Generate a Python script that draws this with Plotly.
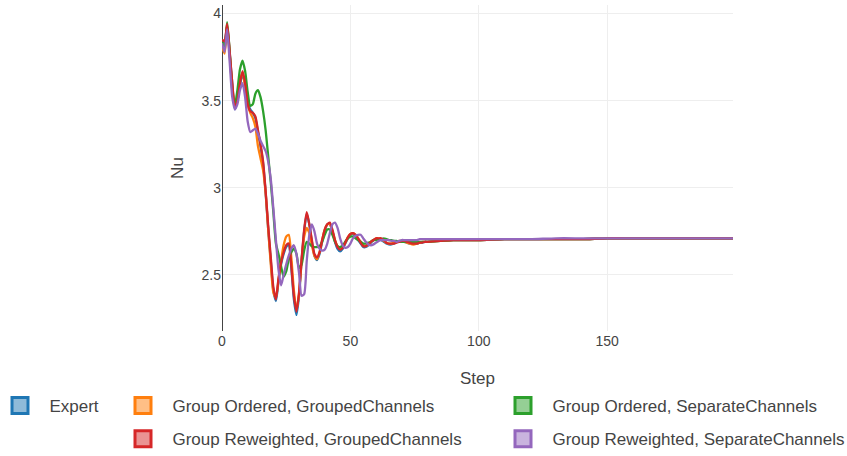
import plotly.graph_objects as go

steps = list(range(0, 81)) + [85, 90, 100, 110, 120, 130, 140, 150, 160, 170, 180, 190, 199]

tail_common = [2.695, 2.70, 2.70, 2.705, 2.705, 2.705, 2.705, 2.71, 2.71, 2.71, 2.71, 2.71, 2.71]

expert = [3.85, 3.83, 3.93, 3.77, 3.60, 3.45, 3.50, 3.59, 3.65, 3.60, 3.49, 3.45, 3.43, 3.40, 3.32, 3.24, 3.14, 2.97, 2.76, 2.58, 2.41, 2.35, 2.46, 2.56, 2.62, 2.66, 2.67, 2.54, 2.36, 2.27,
          2.38, 2.58, 2.75, 2.85, 2.79, 2.69, 2.61, 2.585, 2.62, 2.69, 2.75, 2.79, 2.79, 2.75, 2.69, 2.65, 2.635, 2.65, 2.68, 2.71, 2.73, 2.735, 2.72, 2.70, 2.68, 2.66, 2.66, 2.67, 2.685, 2.70,
          2.705, 2.705, 2.70, 2.69, 2.68, 2.675, 2.675, 2.68, 2.69, 2.69, 2.695, 2.69, 2.685, 2.68, 2.68, 2.68, 2.68, 2.685, 2.685, 2.69, 2.69] + tail_common

go_gc = [3.81, 3.77, 3.92, 3.76, 3.58, 3.46, 3.52, 3.62, 3.66, 3.58, 3.48, 3.43, 3.40, 3.35, 3.24, 3.17, 3.10, 2.97, 2.76, 2.56, 2.40, 2.37, 2.47, 2.58, 2.67, 2.72, 2.73, 2.60, 2.41, 2.30,
         2.39, 2.58, 2.72, 2.77, 2.74, 2.67, 2.61, 2.59, 2.63, 2.70, 2.76, 2.79, 2.79, 2.75, 2.70, 2.665, 2.655, 2.66, 2.685, 2.715, 2.735, 2.74, 2.73, 2.71, 2.69, 2.67, 2.665, 2.675, 2.69, 2.70,
         2.71, 2.71, 2.705, 2.695, 2.685, 2.68, 2.68, 2.685, 2.69, 2.695, 2.695, 2.69, 2.685, 2.68, 2.675, 2.675, 2.68, 2.685, 2.69, 2.69, 2.69] + tail_common

go_sc = [3.84, 3.80, 3.95, 3.78, 3.56, 3.47, 3.56, 3.68, 3.73, 3.67, 3.55, 3.47, 3.48, 3.54, 3.56, 3.52, 3.44, 3.33, 3.18, 3.03, 2.86, 2.68, 2.62, 2.55, 2.49, 2.52, 2.59, 2.63, 2.65, 2.62,
         2.54, 2.56, 2.64, 2.69, 2.68, 2.665, 2.66, 2.66, 2.665, 2.69, 2.73, 2.76, 2.76, 2.73, 2.69, 2.665, 2.66, 2.67, 2.69, 2.71, 2.72, 2.72, 2.71, 2.70, 2.69, 2.68, 2.68, 2.685, 2.69, 2.70,
         2.70, 2.705, 2.705, 2.71, 2.705, 2.70, 2.70, 2.695, 2.695, 2.69, 2.69, 2.69, 2.69, 2.69, 2.69, 2.69, 2.69, 2.69, 2.69, 2.69, 2.69] + tail_common

gr_gc = [3.85, 3.84, 3.94, 3.78, 3.60, 3.46, 3.50, 3.60, 3.67, 3.60, 3.48, 3.44, 3.43, 3.41, 3.33, 3.25, 3.15, 2.98, 2.78, 2.60, 2.43, 2.36, 2.48, 2.57, 2.63, 2.67, 2.68, 2.55, 2.38, 2.29,
         2.40, 2.59, 2.76, 2.86, 2.79, 2.70, 2.62, 2.60, 2.63, 2.70, 2.76, 2.79, 2.80, 2.76, 2.70, 2.66, 2.645, 2.655, 2.685, 2.715, 2.735, 2.74, 2.73, 2.71, 2.685, 2.665, 2.665, 2.675, 2.69, 2.70,
         2.71, 2.71, 2.71, 2.70, 2.685, 2.68, 2.68, 2.68, 2.685, 2.69, 2.695, 2.695, 2.69, 2.685, 2.68, 2.68, 2.68, 2.685, 2.685, 2.69, 2.69] + tail_common

gr_sc = [3.83, 3.78, 3.91, 3.72, 3.52, 3.45, 3.48, 3.56, 3.60, 3.52, 3.38, 3.32, 3.33, 3.34, 3.31, 3.27, 3.24, 3.21, 3.15, 3.05, 2.88, 2.70, 2.53, 2.44, 2.50, 2.56, 2.61, 2.65, 2.67, 2.62,
         2.51, 2.38, 2.39, 2.58, 2.73, 2.79, 2.75, 2.68, 2.65, 2.64, 2.645, 2.68, 2.74, 2.79, 2.80, 2.77, 2.71, 2.67, 2.655, 2.66, 2.68, 2.71, 2.725, 2.73, 2.73, 2.71, 2.69, 2.675, 2.67, 2.675,
         2.685, 2.695, 2.70, 2.70, 2.70, 2.70, 2.695, 2.695, 2.69, 2.695, 2.70, 2.70, 2.70, 2.70, 2.70, 2.70, 2.70, 2.705, 2.705, 2.705, 2.705] + [2.705, 2.705, 2.705, 2.705, 2.705, 2.71, 2.71, 2.71, 2.71, 2.71, 2.71, 2.71, 2.71]

names = ["Expert", "Group Ordered, GroupedChannels", "Group Ordered, SeparateChannels",
         "Group Reweighted, GroupedChannels", "Group Reweighted, SeparateChannels"]
series = [expert, go_gc, go_sc, gr_gc, gr_sc]
colors = ["#1f77b4", "#ff7f0e", "#2ca02c", "#d62728", "#9467bd"]
fills = ["rgba(31,119,180,0.5)", "rgba(255,127,14,0.5)", "rgba(44,160,44,0.5)",
         "rgba(214,39,40,0.5)", "rgba(148,103,189,0.5)"]
legend_ids = ["legend", "legend2", "legend3", "legend2", "legend3"]

x_ticks = [0, 50, 100, 150]
y_ticks = [2.5, 3, 3.5, 4]

fig = go.Figure()
for i, (name, ys, col) in enumerate(zip(names, series, colors)):
    fig.add_trace(go.Scatter(x=steps, y=ys, mode="lines", name=name,
                             line=dict(color=col, width=2.3, shape="spline", smoothing=0.6),
                             legendgroup="g%d" % i, showlegend=False))
for i, (name, col, fc, lg) in enumerate(zip(names, colors, fills, legend_ids)):
    fig.add_trace(go.Scatter(x=[None], y=[None], mode="markers",
                             name="\u00a0\u00a0" + name,
                             marker=dict(symbol="square", size=16, color=fc,
                                         line=dict(color=col, width=3)),
                             legendgroup="g%d" % i, showlegend=True, legend=lg))

# plot area: x 222..733 px, y 5..331 px
PW, PH = 511.0, 326.0
leg_y = (331 - 388) / PH
leg_common = dict(orientation="v", xref="paper", yref="paper",
                  xanchor="left", yanchor="top", y=leg_y,
                  font=dict(size=17), tracegroupgap=8, bgcolor="rgba(0,0,0,0)")

fig.update_layout(
    template="none",
    width=847, height=456,
    font=dict(family="Arial", size=14, color="#444"),
    margin=dict(l=222, r=114, t=5, b=125, autoexpand=False),
    plot_bgcolor="white", paper_bgcolor="white",
    xaxis=dict(title=dict(text="Step", standoff=24), range=[0, 199], tickvals=x_ticks,
               gridcolor="#eee", zeroline=True, zerolinecolor="#444", zerolinewidth=1,
               showline=False),
    yaxis=dict(title=dict(text="Nu", standoff=13), range=[2.178, 4.049], tickvals=y_ticks,
               ticktext=["2.5", "3", "3.5", "4"],
               gridcolor="#eee", zeroline=False, showline=False),
    legend=dict(x=(0 - 222) / PW, **leg_common),
    legend2=dict(x=(123 - 222) / PW, **leg_common),
    legend3=dict(x=(503 - 222) / PW, **leg_common),
)

fig.write_html("out.html", config={"displayModeBar": False},
               post_script="document.body.style.margin='0';document.body.style.overflow='hidden';")
